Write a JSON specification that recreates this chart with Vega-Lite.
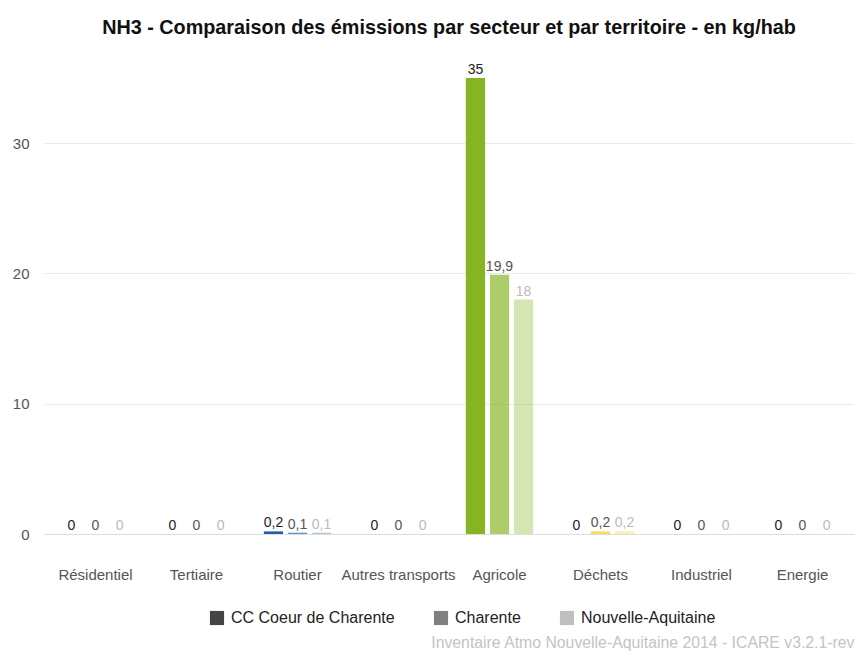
{
  "$schema": "https://vega.github.io/schema/vega-lite/v6.json",
  "width": 810,
  "height": 469,
  "autosize": {"type": "none"},
  "padding": {"left": 44, "top": 65, "right": 4, "bottom": 125},
  "background": "white",
  "config": {
    "font": "Liberation Sans",
    "view": {"stroke": null},
    "locale": {"number": {"decimal": ",", "thousands": " ", "grouping": [3], "currency": ["", " €"]}}
  },
  "title": {
    "text": "NH3 - Comparaison des émissions par secteur et par territoire - en kg/hab",
    "font": "Liberation Sans",
    "fontSize": 19.8,
    "fontWeight": "bold",
    "color": "#111",
    "anchor": "middle",
    "offset": 25
  },
  "data": {
    "values": [
      {"secteur": "Résidentiel", "territoire": "CC Coeur de Charente", "valeur": 0},
      {"secteur": "Résidentiel", "territoire": "Charente", "valeur": 0},
      {"secteur": "Résidentiel", "territoire": "Nouvelle-Aquitaine", "valeur": 0},
      {"secteur": "Tertiaire", "territoire": "CC Coeur de Charente", "valeur": 0},
      {"secteur": "Tertiaire", "territoire": "Charente", "valeur": 0},
      {"secteur": "Tertiaire", "territoire": "Nouvelle-Aquitaine", "valeur": 0},
      {"secteur": "Routier", "territoire": "CC Coeur de Charente", "valeur": 0.2},
      {"secteur": "Routier", "territoire": "Charente", "valeur": 0.1},
      {"secteur": "Routier", "territoire": "Nouvelle-Aquitaine", "valeur": 0.1},
      {"secteur": "Autres transports", "territoire": "CC Coeur de Charente", "valeur": 0},
      {"secteur": "Autres transports", "territoire": "Charente", "valeur": 0},
      {"secteur": "Autres transports", "territoire": "Nouvelle-Aquitaine", "valeur": 0},
      {"secteur": "Agricole", "territoire": "CC Coeur de Charente", "valeur": 35},
      {"secteur": "Agricole", "territoire": "Charente", "valeur": 19.9},
      {"secteur": "Agricole", "territoire": "Nouvelle-Aquitaine", "valeur": 18},
      {"secteur": "Déchets", "territoire": "CC Coeur de Charente", "valeur": 0},
      {"secteur": "Déchets", "territoire": "Charente", "valeur": 0.2},
      {"secteur": "Déchets", "territoire": "Nouvelle-Aquitaine", "valeur": 0.2},
      {"secteur": "Industriel", "territoire": "CC Coeur de Charente", "valeur": 0},
      {"secteur": "Industriel", "territoire": "Charente", "valeur": 0},
      {"secteur": "Industriel", "territoire": "Nouvelle-Aquitaine", "valeur": 0},
      {"secteur": "Energie", "territoire": "CC Coeur de Charente", "valeur": 0},
      {"secteur": "Energie", "territoire": "Charente", "valeur": 0},
      {"secteur": "Energie", "territoire": "Nouvelle-Aquitaine", "valeur": 0}
    ]
  },
  "encoding": {
    "x": {
      "field": "secteur",
      "type": "nominal",
      "sort": ["Résidentiel", "Tertiaire", "Routier", "Autres transports", "Agricole", "Déchets", "Industriel", "Energie"],
      "scale": {"paddingInner": 0, "paddingOuter": 0.01},
      "axis": {
        "title": "Inventaire Atmo Nouvelle-Aquitaine 2014 - ICARE v3.2.1-rev",
        "titleFont": "Liberation Sans",
        "titleFontSize": 15.8,
        "titleFontWeight": "normal",
        "titleColor": "#c4c4c4",
        "titleAnchor": "end",
        "titlePadding": 53,
        "labelAngle": 0,
        "labelFontSize": 15,
        "labelColor": "#555",
        "labelPadding": 33,
        "ticks": false,
        "domain": true,
        "domainColor": "#dddddd",
        "labelLimit": 200
      }
    },
    "xOffset": {
      "field": "territoire",
      "type": "nominal",
      "sort": ["CC Coeur de Charente", "Charente", "Nouvelle-Aquitaine"],
      "scale": {"paddingInner": 0.2, "paddingOuter": 0.7}
    },
    "y": {
      "field": "valeur",
      "type": "quantitative",
      "scale": {"domain": [0, 36], "nice": false},
      "axis": {
        "title": null,
        "values": [0, 10, 20, 30],
        "labelFontSize": 15,
        "labelColor": "#555",
        "labelPadding": 15,
        "ticks": false,
        "domain": false,
        "gridColor": "#ebebeb"
      }
    }
  },
  "layer": [
    {
      "mark": {"type": "bar"},
      "encoding": {
        "color": {
          "field": "secteur",
          "type": "nominal",
          "scale": {
            "domain": ["Résidentiel", "Tertiaire", "Routier", "Autres transports", "Agricole", "Déchets", "Industriel", "Energie"],
            "range": ["#c0392b", "#e67e22", "#1f5fa6", "#7f8fa6", "#86b423", "#f2cf0c", "#8e44ad", "#2c3e50"]
          },
          "legend": null
        },
        "opacity": {
          "field": "territoire",
          "type": "nominal",
          "scale": {
            "type": "ordinal",
            "domain": ["CC Coeur de Charente", "Charente", "Nouvelle-Aquitaine"],
            "range": [1, 0.68, 0.34]
          },
          "legend": {
            "title": null,
            "orient": "none",
            "legendX": 165,
            "legendY": 545,
            "direction": "horizontal",
            "symbolType": "square",
            "symbolFillColor": "#444",
            "symbolStrokeWidth": 0,
            "symbolSize": 200,
            "labelFontSize": 16,
            "labelColor": "#222",
            "columnPadding": 38,
            "labelOffset": 6,
            "labelLimit": 300
          }
        }
      }
    },
    {
      "mark": {"type": "text", "baseline": "bottom", "dy": -1, "fontSize": 14},
      "encoding": {
        "text": {"field": "valeur", "type": "quantitative", "format": ".1~f"},
        "color": {
          "field": "territoire",
          "type": "nominal",
          "scale": {
            "domain": ["CC Coeur de Charente", "Charente", "Nouvelle-Aquitaine"],
            "range": ["#222222", "#555555", "#bbbbbb"]
          },
          "legend": null
        }
      }
    }
  ],
  "resolve": {"scale": {"color": "independent"}}
}
